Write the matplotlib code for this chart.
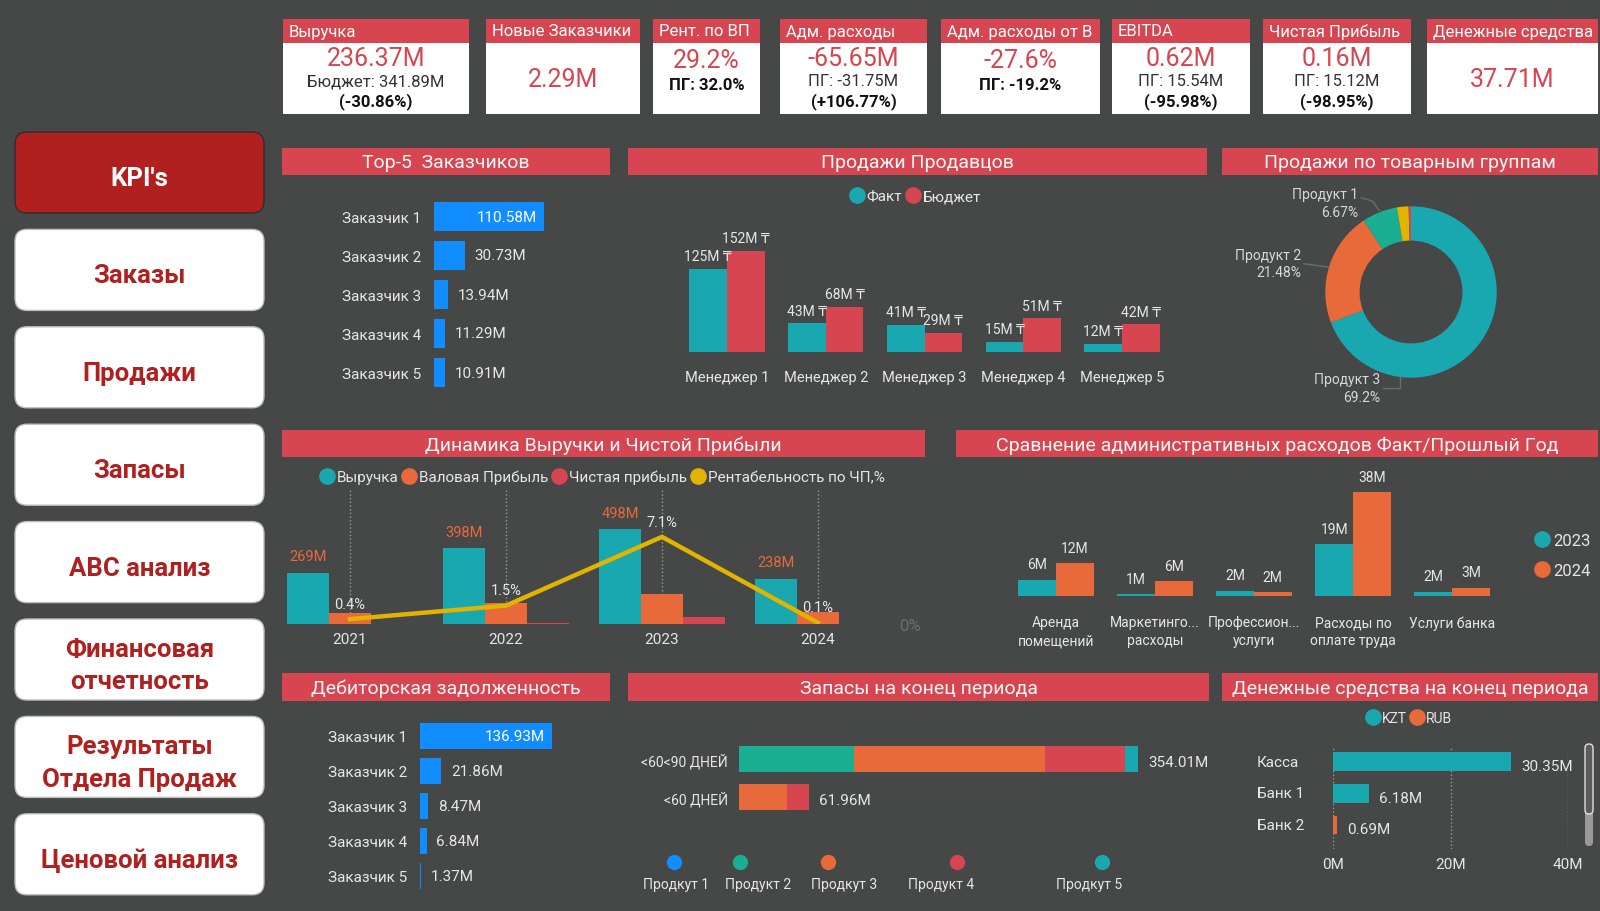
import numpy as np
import matplotlib
matplotlib.use('Agg')
import matplotlib.pyplot as plt
from matplotlib.patches import FancyBboxPatch, Rectangle
from matplotlib.lines import Line2D

plt.rcParams['font.family'] = ['Roboto', 'DejaVu Sans']

W, H = 1600, 912

BG = '#464747'
HEAD = '#D64550'
TXT = '#E6E6E6'
TEAL = '#1AA8B0'
ORANGE = '#E8693A'
RED = '#D64550'
BLUE = '#118DFF'
GREEN = '#1AAE93'
YELLOW = '#E0B400'
NAV_RED = '#B0201E'

# ---- data ----
kpi_titles = ['Выручка', 'Новые Заказчики', 'Рент. по ВП', 'Адм. расходы',
              'Адм. расходы от В', 'EBITDA', 'Чистая Прибыль', 'Денежные средства']
kpi_values = ['236.37M', '2.29M', '29.2%', '-65.65M', '-27.6%', '0.62M', '0.16M', '37.71M']
kpi_sub = ['Бюджет: 341.89M', '', 'ПГ: 32.0%', 'ПГ: -31.75M', 'ПГ: -19.2%',
           'ПГ: 15.54M', 'ПГ: 15.12M', '']
kpi_delta = ['(-30.86%)', '', '', '(+106.77%)', '', '(-95.98%)', '(-98.95%)', '']

nav_items = ["KPI's", 'Заказы', 'Продажи', 'Запасы', 'ABC анализ',
             'Финансовая\nотчетность', 'Результаты\nОтдела Продаж', 'Ценовой анализ']

top5_names = ['Заказчик 1', 'Заказчик 2', 'Заказчик 3', 'Заказчик 4', 'Заказчик 5']
top5_values = [110.58, 30.73, 13.94, 11.29, 10.91]

managers = ['Менеджер 1', 'Менеджер 2', 'Менеджер 3', 'Менеджер 4', 'Менеджер 5']
sales_fact = [125, 43, 41, 15, 12]
sales_budget = [152, 68, 29, 51, 42]

products = ['Продукт 3', 'Продукт 2', 'Продукт 1', 'Продукт 4', 'Продукт 5']
product_share = [69.2, 21.48, 6.67, 2.2, 0.45]

years = ['2021', '2022', '2023', '2024']
revenue = [269, 398, 498, 238]
gross_profit = [59, 108, 156, 65]
net_profit = [1.1, 6.0, 35.4, 0.24]
net_margin = [0.4, 1.5, 7.1, 0.1]

admin_cats = ['Аренда\nпомещений', 'Маркетинго...\nрасходы', 'Профессион...\nуслуги',
              'Расходы по\nоплате труда', 'Услуги банка']
admin_2023 = [6, 0.6, 1.9, 19, 1.6]
admin_2024 = [12, 5.5, 1.5, 38, 3.0]

recv_names = ['Заказчик 1', 'Заказчик 2', 'Заказчик 3', 'Заказчик 4', 'Заказчик 5']
recv_values = [136.93, 21.86, 8.47, 6.84, 1.37]

stock_rows = ['<60<90 ДНЕЙ', '<60 ДНЕЙ']
stock_p1 = [0, 0]
stock_p2 = [102.3, 0]
stock_p3 = [169.3, 42.8]
stock_p4 = [70.6, 19.16]
stock_p5 = [11.81, 0]
stock_legend = ['Продкут 1', 'Продукт 2', 'Продкут 3', 'Продукт 4', 'Продкут 5']

cash_names = ['Касса', 'Банк 1', 'Банк 2']
cash_kzt = [30.35, 6.18, 0]
cash_rub = [0, 0, 0.69]


fig = plt.figure(figsize=(16, 9.12), dpi=100)
fig.patch.set_facecolor(BG)

bg = fig.add_axes([0, 0, 1, 1], zorder=0)
bg.set_xlim(0, W)
bg.set_ylim(H, 0)
bg.axis('off')


def px_ax(x0, y0, x1, y1):
    ax = fig.add_axes([x0 / W, 1 - y1 / H, (x1 - x0) / W, (y1 - y0) / H], zorder=2)
    ax.set_facecolor('none')
    for s in ax.spines.values():
        s.set_visible(False)
    return ax


def dot_legend(labels, colors, x, y, ncol, size=11, **kw):
    handles = [Line2D([], [], marker='o', linestyle='', markersize=11,
                      markerfacecolor=c, markeredgecolor=c) for c in colors]
    fig.legend(handles, labels, loc='center', bbox_to_anchor=(x / W, 1 - y / H),
               ncol=ncol, frameon=False, handlelength=1.0, handletextpad=0.15,
               columnspacing=0.2, fontsize=size, labelcolor=TXT, **kw)


# ---- KPI cards ----
card_x = [(283, 469), (486, 640), (653, 760), (780, 927), (941, 1100),
          (1112, 1250), (1263, 1411), (1427, 1598)]
for (x0, x1), t, v, s, d in zip(card_x, kpi_titles, kpi_values, kpi_sub, kpi_delta):
    bg.add_patch(Rectangle((x0, 20), x1 - x0, 95, facecolor='white', edgecolor='none'))
    bg.add_patch(Rectangle((x0, 20), x1 - x0, 24, facecolor=HEAD, edgecolor='none'))
    bg.text(x0 + 6, 32, t, color='white', fontsize=12, va='center', ha='left')
    cx = (x0 + x1) / 2
    if s and d:
        bg.text(cx, 59, v, color=HEAD, fontsize=18, ha='center', va='center')
        bg.text(cx, 82, s, color='#333333', fontsize=12, ha='center', va='center')
        bg.text(cx, 102, d, color='#111111', fontsize=12, ha='center', va='center',
                fontweight='bold')
    elif s:
        bg.text(cx, 61, v, color=HEAD, fontsize=18, ha='center', va='center')
        bg.text(cx, 86, s, color='#111111', fontsize=12, ha='center', va='center',
                fontweight='bold')
    else:
        bg.text(cx, 80, v, color=HEAD, fontsize=18, ha='center', va='center')

# ---- navigation ----
for i, name in enumerate(nav_items):
    top = 133 + i * 97.4
    active = i == 0
    bg.add_patch(FancyBboxPatch((15, top), 249, 81,
                                boxstyle='round,pad=0,rounding_size=12',
                                facecolor=NAV_RED if active else 'white',
                                edgecolor='#2E2E2E' if active else '#BDBDBD', linewidth=1))
    bg.text(139.5, top + 46, name, color='white' if active else NAV_RED,
            fontsize=18.5, fontweight='bold', ha='center', va='center', linespacing=1.45)

# ---- panel headers ----
panels = [((282, 149, 610, 176), 'Top-5  Заказчиков'),
          ((628, 149, 1207, 176), 'Продажи Продавцов'),
          ((1222, 149, 1598, 176), 'Продажи по товарным группам'),
          ((282, 431, 925, 458), 'Динамика Выручки и Чистой Прибыли'),
          ((956, 431, 1598, 458), 'Сравнение административных расходов Факт/Прошлый Год'),
          ((282, 674, 610, 702), 'Дебиторская задолженность'),
          ((628, 674, 1209, 702), 'Запасы на конец периода'),
          ((1222, 674, 1598, 702), 'Денежные средства на конец периода')]
for (x0, y0, x1, y1), title in panels:
    bg.add_patch(Rectangle((x0, y0), x1 - x0, y1 - y0, facecolor=HEAD, edgecolor='none'))
    bg.text((x0 + x1) / 2, (y0 + y1) / 2 + 1, title, color='#F7F7F7', fontsize=14,
            ha='center', va='center')


def hbar_top(ax, names, values, xmax):
    y = np.arange(len(values))
    ax.barh(y, values, height=0.75, color=BLUE)
    ax.set_ylim(len(values) - 0.5, -0.5)
    ax.set_xlim(0, xmax)
    ax.set_xticks([])
    ax.set_yticks(y)
    ax.set_yticklabels(names)
    ax.tick_params(axis='y', length=0, pad=9, labelsize=11, labelcolor=TXT)
    for i, v in enumerate(values):
        if i == 0:
            ax.annotate(f'{v:.2f}M', (v, i), xytext=(-5, 0), textcoords='offset points',
                        ha='right', va='center', color='white', fontsize=11)
        else:
            ax.annotate(f'{v:.2f}M', (v, i), xytext=(7, 0), textcoords='offset points',
                        ha='left', va='center', color=TXT, fontsize=11)


# ---- Top-5 ----
ax = px_ax(434, 198, 600, 393)
hbar_top(ax, top5_names, top5_values, 167)

# ---- receivables ----
ax = px_ax(420, 719.5, 600, 894.5)
hbar_top(ax, recv_names, recv_values, 187)

# ---- sales by managers ----
ax = px_ax(677.6, 230, 1171.4, 353)
x = np.arange(len(managers))
w = 0.38
ax.bar(x - w / 2, sales_fact, width=w, color=TEAL)
ax.bar(x + w / 2, sales_budget, width=w, color=RED)
ax.set_xlim(-0.5, len(managers) - 0.5)
ax.set_ylim(0, 185)
ax.set_yticks([])
ax.set_xticks(x)
ax.set_xticklabels(managers)
ax.tick_params(axis='x', length=0, pad=13, labelsize=10.5, labelcolor=TXT)
for i in range(len(managers)):
    ax.annotate(f'{sales_fact[i]:.0f}M ₸', (x[i] - w / 2, sales_fact[i]), xytext=(0, 4),
                textcoords='offset points', ha='center', va='bottom', color=TXT, fontsize=10)
    ax.annotate(f'{sales_budget[i]:.0f}M ₸', (x[i] + w / 2, sales_budget[i]), xytext=(0, 4),
                textcoords='offset points', ha='center', va='bottom', color=TXT, fontsize=10)
dot_legend(['Факт', 'Бюджет'], [TEAL, RED], 915, 197, 2)

# ---- donut ----
ax = px_ax(1291, 173, 1531, 413)
ax.pie(product_share, colors=[TEAL, ORANGE, GREEN, YELLOW, RED], startangle=90,
       counterclock=False, radius=1.0, wedgeprops=dict(width=0.4, edgecolor='none'))
ax.set_xlim(-1.4, 1.4)
ax.set_ylim(-1.4, 1.4)
ax.set_aspect('equal')
donut_labels = [
    ('Продукт 1\n6.67%', (-0.62, 1.04), [(-0.58, 1.10), (-0.45, 1.06), (-0.37, 0.95)]),
    ('Продукт 2\n21.48%', (-1.28, 0.33), [(-1.25, 0.33), (-0.96, 0.29)]),
    ('Продукт 3\n69.2%', (-0.36, -1.12), [(-0.33, -1.12), (-0.13, -1.12), (-0.13, -0.99)]),
]
for text, pos, pts in donut_labels:
    ax.text(pos[0], pos[1], text, ha='right', va='center', color='#D8D8D8',
            fontsize=10, linespacing=1.3, multialignment='right')
    pts = np.array(pts)
    ax.plot(pts[:, 0], pts[:, 1], color='#6C6C6C', lw=1)

# ---- revenue dynamics ----
ax = px_ax(272, 490, 896, 625)
x = np.arange(len(years))
w = 0.268
ax.bar(x - w, revenue, width=w, color=TEAL, zorder=2)
ax.bar(x, gross_profit, width=w, color=ORANGE, zorder=2)
ax.bar(x + w, net_profit, width=w, color=RED, zorder=2)
ax.set_xlim(-0.5, len(years) - 0.5)
ax.set_ylim(0, 710)
ax.set_yticks([])
ax.set_xticks(x)
ax.set_xticklabels(years)
ax.tick_params(axis='x', length=0, pad=6, labelsize=11, labelcolor=TXT)
ax.grid(axis='x', linestyle=':', color='#9A9A9A', lw=1, zorder=0)
for i, v in enumerate(revenue):
    ax.annotate(f'{v:.0f}M', (x[i] - w, v), xytext=(0, 7), textcoords='offset points',
                ha='center', va='bottom', color=ORANGE, fontsize=10.5)
tw = ax.twinx()
tw.set_facecolor('none')
for s in tw.spines.values():
    s.set_visible(False)
tw.plot(x, net_margin, color=YELLOW, lw=3.2, zorder=3)
tw.set_ylim(0, 11.0)
tw.set_yticks([0])
tw.set_yticklabels(['0%'])
tw.tick_params(axis='y', length=0, pad=2, labelsize=12, labelcolor='#6E6E6E')
for i, v in enumerate(net_margin):
    tw.annotate(f'{v:.1f}%', (x[i], v), xytext=(0, 6), textcoords='offset points',
                ha='center', va='bottom', color=TXT, fontsize=10.5)
dot_legend(['Выручка', 'Валовая Прибыль', 'Чистая прибыль', 'Рентабельность по ЧП,%'],
           [TEAL, ORANGE, RED, YELLOW], 602, 478, 4)

# ---- admin expenses ----
ax = px_ax(1006.5, 465, 1501.5, 597)
x = np.arange(len(admin_cats))
w = 0.38
ax.bar(x - w / 2, admin_2023, width=w, color=TEAL)
ax.bar(x + w / 2, admin_2024, width=w, color=ORANGE)
ax.set_xlim(-0.5, len(admin_cats) - 0.5)
ax.set_ylim(0, 48.3)
ax.set_yticks([])
ax.set_xticks(x)
ax.set_xticklabels(admin_cats, linespacing=1.35)
ax.tick_params(axis='x', length=0, pad=14, labelsize=10, labelcolor=TXT)
for i in range(len(admin_cats)):
    ax.annotate(f'{admin_2023[i]:.0f}M', (x[i] - w / 2, admin_2023[i]), xytext=(0, 6),
                textcoords='offset points', ha='center', va='bottom', color=TXT, fontsize=10)
    ax.annotate(f'{admin_2024[i]:.0f}M', (x[i] + w / 2, admin_2024[i]), xytext=(0, 6),
                textcoords='offset points', ha='center', va='bottom', color=TXT, fontsize=10)
dot_legend(['2023', '2024'], [TEAL, ORANGE], 1562, 556, 1, size=12, labelspacing=0.9)

# ---- stock ----
ax = px_ax(739, 741, 1190, 817)
y = np.arange(len(stock_rows))
left = np.zeros(len(stock_rows))
for vals, c in zip([stock_p1, stock_p2, stock_p3, stock_p4, stock_p5],
                   [BLUE, GREEN, ORANGE, RED, TEAL]):
    ax.barh(y, vals, left=left, height=0.7, color=c)
    left = left + np.array(vals)
ax.set_ylim(len(stock_rows) - 0.5, -0.5)
ax.set_xlim(0, 400)
ax.set_xticks([])
ax.set_yticks(y)
ax.set_yticklabels(stock_rows)
ax.tick_params(axis='y', length=0, pad=8, labelsize=10, labelcolor=TXT)
for i, tot in enumerate(left):
    ax.annotate(f'{tot:.2f}M', (tot, i), xytext=(7, -2), textcoords='offset points',
                ha='left', va='center', color=TXT, fontsize=11)
leg_dot_x = [674, 740, 828, 957, 1102]
leg_txt_x = [676, 758, 844, 941, 1089]
for dx, tx, name, c in zip(leg_dot_x, leg_txt_x, stock_legend,
                           [BLUE, GREEN, ORANGE, RED, TEAL]):
    bg.plot([dx], [863], marker='o', markersize=10, color=c, linestyle='')
    bg.text(tx, 885, name, color=TXT, fontsize=10, ha='center', va='center')

# ---- cash ----
ax = px_ax(1333, 747, 1568, 850)
y = np.arange(len(cash_names))
ax.barh(y, cash_kzt, height=0.6, color=TEAL, zorder=2)
ax.barh(y, cash_rub, left=cash_kzt, height=0.6, color=ORANGE, zorder=2)
ax.set_ylim(2.76, -0.5)
ax.set_xlim(0, 40)
ax.set_yticks([])
ax.set_xticks([0, 20, 40])
ax.set_xticklabels(['0M', '20M', '40M'])
ax.tick_params(axis='x', length=0, pad=6, labelsize=11, labelcolor=TXT)
ax.grid(axis='x', linestyle=':', color='#9A9A9A', lw=1, zorder=0)
for i, name in enumerate(cash_names):
    tot = cash_kzt[i] + cash_rub[i]
    ax.annotate(f'{tot:.2f}M', (tot, i), xytext=(7, -3), textcoords='offset points',
                ha='left', va='center', color=TXT, fontsize=11)
    ax.text(-0.323, i, name, transform=ax.get_yaxis_transform(), ha='left', va='center',
            color=TXT, fontsize=11)
dot_legend(['KZT', 'RUB'], [TEAL, ORANGE], 1409, 719, 2, size=10)
bg.add_patch(FancyBboxPatch((1585, 745), 8, 102, boxstyle='round,pad=0,rounding_size=4',
                            facecolor='#9A9A9A', edgecolor='none'))
bg.add_patch(FancyBboxPatch((1585, 745), 8, 70, boxstyle='round,pad=0,rounding_size=4',
                            facecolor='#5C5C5C', edgecolor='#E0E0E0', linewidth=1))

fig.savefig('out.png', dpi=100, facecolor=BG)
